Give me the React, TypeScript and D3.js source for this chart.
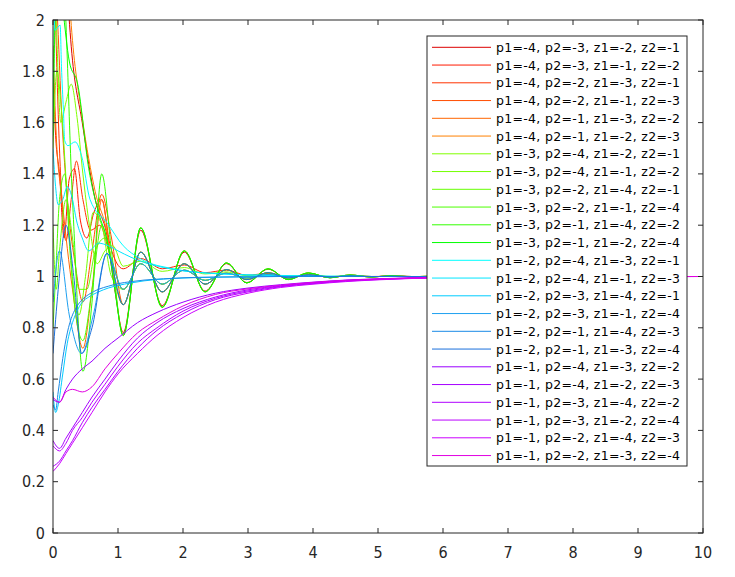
import React from "react";
import * as d3 from "d3";

const W = 735;
const H = 577;
const M = { left: 53, right: 703, top: 20, bottom: 533 };

const xTicks = [0, 1, 2, 3, 4, 5, 6, 7, 8, 9, 10];
const yTicks = [0, 0.2, 0.4, 0.6, 0.8, 1, 1.2, 1.4, 1.6, 1.8, 2];
const yTickLabels = ["0", "0.2", "0.4", "0.6", "0.8", "1", "1.2", "1.4", "1.6", "1.8", "2"];

const labels = [
  "p1=-4, p2=-3, z1=-2, z2=-1",
  "p1=-4, p2=-3, z1=-1, z2=-2",
  "p1=-4, p2=-2, z1=-3, z2=-1",
  "p1=-4, p2=-2, z1=-1, z2=-3",
  "p1=-4, p2=-1, z1=-3, z2=-2",
  "p1=-4, p2=-1, z1=-2, z2=-3",
  "p1=-3, p2=-4, z1=-2, z2=-1",
  "p1=-3, p2=-4, z1=-1, z2=-2",
  "p1=-3, p2=-2, z1=-4, z2=-1",
  "p1=-3, p2=-2, z1=-1, z2=-4",
  "p1=-3, p2=-1, z1=-4, z2=-2",
  "p1=-3, p2=-1, z1=-2, z2=-4",
  "p1=-2, p2=-4, z1=-3, z2=-1",
  "p1=-2, p2=-4, z1=-1, z2=-3",
  "p1=-2, p2=-3, z1=-4, z2=-1",
  "p1=-2, p2=-3, z1=-1, z2=-4",
  "p1=-2, p2=-1, z1=-4, z2=-3",
  "p1=-2, p2=-1, z1=-3, z2=-4",
  "p1=-1, p2=-4, z1=-3, z2=-2",
  "p1=-1, p2=-4, z1=-2, z2=-3",
  "p1=-1, p2=-3, z1=-4, z2=-2",
  "p1=-1, p2=-3, z1=-2, z2=-4",
  "p1=-1, p2=-2, z1=-4, z2=-3",
  "p1=-1, p2=-2, z1=-3, z2=-4",
];

const colors = [
  "#dc0000", "#ff1a00", "#ff3300", "#ff4d00", "#ff6600", "#ff8000",
  "#80ff00", "#73ff00", "#66ff00", "#4dff00", "#33ff00", "#00ff00",
  "#00ffff", "#00e6ff", "#00ccff", "#1ea0f0", "#1a8ae6", "#1a70dc",
  "#9900ff", "#a500ff", "#b000ff", "#bb00ff", "#cc00ff", "#e100e1",
];

// late-time common oscillation extrema (trough, peak, ...)
const tLate = [1.08, 1.35, 1.68, 2.02, 2.34, 2.67, 2.98, 3.31, 3.62, 3.93, 4.26, 4.57, 4.9, 5.2, 5.52, 5.84, 6.5, 10];
const yLateBig = [0.77, 1.19, 0.88, 1.1, 0.94, 1.053, 0.975, 1.03, 0.988, 1.014, 0.995, 1.006, 0.998, 1.003, 0.999, 1.0015, 1, 1];
const yLateMed = [0.89, 1.095, 0.94, 1.05, 0.97, 1.027, 0.988, 1.015, 0.994, 1.007, 0.9975, 1.003, 0.999, 1.0015, 1, 1, 1, 1];
const yLateSmall = [0.95, 1.05, 0.97, 1.025, 0.985, 1.013, 0.994, 1.008, 0.997, 1.004, 0.999, 1.0015, 1, 1, 1, 1, 1, 1];
const yLateRed = [1.03, 1.07, 1.03, 1.045, 1.015, 1.025, 1.005, 1.012, 1.0, 1.006, 0.999, 1.003, 1.0, 1.001, 1, 1, 1, 1];
const yLateGreen = [1.04, 1.06, 1.02, 1.035, 1.01, 1.018, 1.003, 1.009, 1, 1.004, 1, 1.002, 1, 1, 1, 1, 1, 1];

// early-time samples for each series
const tA = [0, 0.12, 0.22, 0.29, 0.45, 0.65, 0.83, 0.95];
const y01 = [2.6, 2.4, 2.1, 1.87, 1.6, 1.3, 1.16, 0.95];
const t02 = [0, 0.04, 0.1, 0.17, 0.25, 0.33, 0.42, 0.52, 0.63, 0.75, 0.88];
const y02 = [1.8, 1.55, 1.4, 1.15, 1.38, 1.42, 1.22, 1.15, 1.25, 1.3, 1.12];
const t03 = [0, 0.05, 0.12, 0.2, 0.28, 0.36, 0.46, 0.58, 0.72, 0.88];
const y03 = [2.5, 1.9, 1.38, 1.14, 1.3, 1.45, 1.3, 1.18, 1.2, 1.08];
const t04 = [0, 0.06, 0.14, 0.24, 0.34, 0.46, 0.6, 0.75, 0.9];
const y04 = [2.3, 2.05, 1.6, 1.25, 1.05, 0.9, 1.1, 1.32, 1.15];
const tB = [0, 0.05, 0.14, 0.3, 0.46, 0.6, 0.75, 0.9];
const y05 = [1.9, 1.55, 1.3, 0.95, 0.72, 0.95, 1.3, 1.05];
const y06 = [2.5, 2.45, 2.2, 1.95, 1.62, 1.33, 1.17, 0.96];
const t07 = [0, 0.05, 0.12, 0.2, 0.28, 0.37, 0.46, 0.56, 0.68, 0.8, 0.92];
const y07 = [2.4, 2.0, 1.6, 1.68, 1.75, 1.62, 1.4, 1.2, 1.05, 1.1, 1.12];
const t08 = [0, 0.06, 0.13, 0.22, 0.3, 0.4, 0.5, 0.62, 0.75, 0.9];
const y08 = [1.5, 1.8, 1.65, 1.3, 1.0, 0.85, 1.0, 1.25, 1.2, 1.0];
const t09 = [0, 0.05, 0.1, 0.2, 0.3, 0.4, 0.52, 0.65, 0.8, 0.92];
const y09 = [1.2, 0.95, 1.1, 1.3, 1.15, 0.95, 0.95, 1.1, 1.15, 1.05];
const t10 = [0, 0.04, 0.1, 0.18, 0.26, 0.35, 0.46, 0.6, 0.75, 0.9];
const y10 = [0.8, 1.0, 1.3, 1.4, 1.1, 0.85, 0.75, 0.95, 1.2, 1.05];
const y11 = [1.6, 2.1, 2.2, 1.3, 0.63, 0.9, 1.4, 1.1];
const t12 = [0, 0.05, 0.15, 0.25, 0.38, 0.55, 0.7, 0.85, 0.95];
const y12 = [1.55, 2.3, 2.05, 1.84, 1.75, 1.42, 1.25, 1.12, 0.95];

const t13 = [0, 0.03, 0.11, 0.13, 0.16, 0.18, 0.23, 0.34, 0.44, 0.57, 0.83, 1.08, 1.34, 1.85, 2.57, 3.3, 4, 5, 10];
const y13 = [2.3, 1.96, 1.98, 1.82, 1.65, 1.53, 1.51, 1.525, 1.47, 1.3, 1.21, 1.12, 1.07, 1.03, 1.01, 1.005, 1.002, 1, 1];
const tMono = [0, 0.04, 0.08, 0.15, 0.22, 0.3, 0.36, 0.45, 0.55, 0.7, 0.85, 1.0, 1.2, 1.4, 1.7, 2.0, 2.5, 3.0, 3.5, 4, 5, 10];
const y14 = [1.5, 1.35, 1.28, 1.3, 1.35, 1.3, 1.22, 1.15, 1.1, 1.13, 1.12, 1.1, 1.075, 1.055, 1.035, 1.022, 1.012, 1.006, 1.003, 1.001, 1, 1];
const y15 = [0.55, 0.47, 0.5, 0.62, 0.74, 0.82, 0.86, 0.9, 0.92, 0.94, 0.955, 0.965, 0.975, 0.983, 0.99, 0.994, 0.997, 0.999, 1, 1, 1, 1];
const t16 = [0, 0.1, 0.25, 0.44, 0.62, 0.83];
const y16 = [0.9, 1.1, 0.85, 0.7, 0.85, 1.09];
const y17 = [0.5, 0.48, 0.55, 0.68, 0.78, 0.85, 0.88, 0.91, 0.93, 0.95, 0.962, 0.972, 0.98, 0.986, 0.991, 0.995, 0.998, 0.999, 1, 1, 1, 1];
const t18 = [0, 0.08, 0.2, 0.32, 0.44, 0.6, 0.83];
const y18 = [0.7, 0.95, 1.2, 1.0, 0.7, 0.8, 1.09];

const tSlow = [0, 0.1, 0.2, 0.3, 0.45, 0.6, 0.8, 1.0, 1.3, 1.6, 2.0, 2.5, 3.0, 3.5, 4.0, 4.5, 5.0, 5.5, 6, 7, 10];
const y19 = [0.52, 0.51, 0.56, 0.6, 0.64, 0.67, 0.72, 0.76, 0.82, 0.86, 0.9, 0.935, 0.955, 0.968, 0.978, 0.986, 0.991, 0.995, 0.997, 0.999, 1];
const y20 = [0.36, 0.33, 0.37, 0.41, 0.47, 0.53, 0.6, 0.67, 0.76, 0.82, 0.875, 0.92, 0.948, 0.964, 0.976, 0.985, 0.99, 0.994, 0.997, 0.999, 1];
const y21 = [0.26, 0.28, 0.32, 0.36, 0.43, 0.49, 0.56, 0.63, 0.72, 0.79, 0.855, 0.91, 0.94, 0.96, 0.972, 0.982, 0.988, 0.993, 0.996, 0.999, 1];
const y22 = [0.34, 0.32, 0.35, 0.4, 0.45, 0.51, 0.58, 0.65, 0.74, 0.8, 0.865, 0.915, 0.944, 0.962, 0.974, 0.983, 0.989, 0.993, 0.996, 0.999, 1];
const y23 = [0.24, 0.27, 0.31, 0.35, 0.41, 0.47, 0.55, 0.62, 0.7, 0.77, 0.84, 0.9, 0.935, 0.957, 0.97, 0.98, 0.987, 0.992, 0.995, 0.999, 1];
const y24 = [0.53, 0.51, 0.55, 0.56, 0.55, 0.57, 0.64, 0.7, 0.78, 0.83, 0.885, 0.93, 0.952, 0.966, 0.977, 0.985, 0.99, 0.994, 0.997, 0.999, 1];

const join = (t1: number[], v1: number[], t2: number[], v2: number[]) =>
  t1.map((t, i) => [t, v1[i]] as [number, number]).concat(t2.map((t, i) => [t, v2[i]] as [number, number]));
const pair = (t: number[], v: number[]) => t.map((tt, i) => [tt, v[i]] as [number, number]);

const series: [number, number][][] = [
  join(tA, y01, tLate, yLateBig.map((v) => 1 + (v - 1) * 0.95)),
  join(t02, y02, tLate, yLateRed),
  join(t03, y03, tLate, yLateSmall),
  join(t04, y04, tLate, yLateMed),
  join(tB, y05, tLate, yLateMed),
  join(tA, y06, tLate, yLateBig),
  join(t07, y07, tLate, yLateGreen),
  join(t08, y08, tLate, yLateSmall),
  join(t09, y09, tLate, yLateSmall),
  join(t10, y10, tLate, yLateMed),
  join(tB, y11, tLate, yLateBig),
  join(t12, y12, tLate, yLateBig),
  pair(t13, y13),
  pair(tMono, y14),
  pair(tMono, y15),
  join(t16, y16, tLate, yLateSmall),
  pair(tMono, y17),
  join(t18, y18, tLate, yLateMed),
  pair(tSlow, y19),
  pair(tSlow, y20),
  pair(tSlow, y21),
  pair(tSlow, y22),
  pair(tSlow, y23),
  pair(tSlow, y24),
];

export default function App() {
  const x = d3.scaleLinear().domain([0, 10]).range([M.left, M.right]);
  const y = d3.scaleLinear().domain([0, 2]).range([M.bottom, M.top]);
  const line = d3
    .line<[number, number]>()
    .x((d) => x(d[0]))
    .y((d) => y(d[1]))
    .curve(d3.curveMonotoneX);

  const legX = 427;
  const legY = 36;
  const legW = 260;
  const legH = 430;
  const rowH = 17.75;
  const row0 = 47.3;
  const fontTick = "'Liberation Sans Narrow', 'DejaVu Sans Condensed', 'Noto Sans', sans-serif";
  const fontLeg = "'DejaVu Sans', 'Noto Sans', sans-serif";

  return (
    <svg
      width={W}
      height={H}
      style={{ position: "absolute", left: 0, top: 0, background: "#fff" }}
    >
      <defs>
        <clipPath id="plotclip">
          <rect x={M.left} y={M.top} width={M.right - M.left} height={M.bottom - M.top} />
        </clipPath>
      </defs>
      <rect x={0} y={0} width={W} height={H} fill="#fff" />
      <g clipPath="url(#plotclip)">
        {series.map((s, i) => (
          <path key={i} d={line(s) || ""} fill="none" stroke={colors[i]} strokeWidth={1} />
        ))}
      </g>
      <rect
        x={M.left}
        y={M.top}
        width={M.right - M.left}
        height={M.bottom - M.top}
        fill="none"
        stroke="#262626"
        strokeWidth={1}
      />
      {xTicks.map((t) => (
        <g key={"xt" + t}>
          <line x1={x(t)} x2={x(t)} y1={M.bottom} y2={M.bottom - 5} stroke="#262626" />
          <line x1={x(t)} x2={x(t)} y1={M.top} y2={M.top + 5} stroke="#262626" />
          <text x={x(t)} y={558} textAnchor="middle" fontFamily={fontTick} fontSize={16} fill="#262626">
            {t}
          </text>
        </g>
      ))}
      {yTicks.map((t, i) => (
        <g key={"yt" + t}>
          <line x1={M.left} x2={M.left + 5} y1={y(t)} y2={y(t)} stroke="#262626" />
          <line x1={M.right} x2={M.right - 5} y1={y(t)} y2={y(t)} stroke="#262626" />
          <text x={45} y={y(t) + 5.5} textAnchor="end" fontFamily={fontTick} fontSize={16} fill="#262626">
            {yTickLabels[i]}
          </text>
        </g>
      ))}
      <rect x={legX} y={legY} width={legW} height={legH} fill="#fff" stroke="#262626" strokeWidth={1} />
      {labels.map((lab, i) => (
        <g key={"lg" + i}>
          <line
            x1={432}
            x2={491}
            y1={row0 + i * rowH}
            y2={row0 + i * rowH}
            stroke={colors[i]}
            strokeWidth={1}
          />
          <text
            x={496}
            y={row0 + i * rowH + 4.5}
            fontFamily={fontLeg}
            fontSize={12.5}
            textLength={184}
            lengthAdjust="spacing"
            fill="#000"
          >
            {lab}
          </text>
        </g>
      ))}
    </svg>
  );
}
